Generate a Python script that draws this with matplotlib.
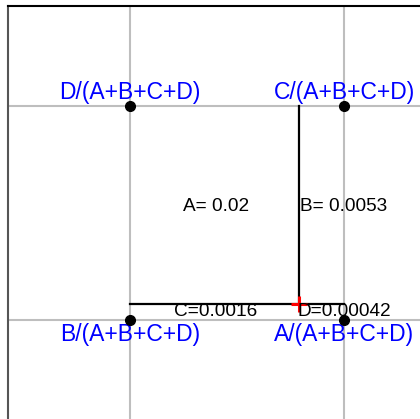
import matplotlib
matplotlib.use('Agg')
import matplotlib.pyplot as plt

plt.rcParams['font.family'] = ['Liberation Sans', 'DejaVu Sans']

# values shown on the chart
names = ['A', 'B', 'C', 'D']
values = [0.02, 0.0053, 0.0016, 0.00042]
value_texts = ['A= 0.02', 'B= 0.0053', 'C=0.0016', 'D=0.00042']
corner_labels = ['A/(A+B+C+D)', 'B/(A+B+C+D)', 'C/(A+B+C+D)', 'D/(A+B+C+D)']
corner_x = [1, 0, 1, 0]
corner_y = [0, 0, 1, 1]

if __name__ == '__main__':
    A, B, C, D = values
    total = sum(values)
    cross_x = (A + C) / total
    cross_y = (C + D) / total

    fig = plt.figure(figsize=(4.2, 4.19), dpi=100)
    ax = fig.add_axes([8 / 420, 0.9857 - 1.0048, 1.0905, 1.0048])
    ax.set_xlim(-0.57, 1.57)
    ax.set_ylim(-0.5, 1.467)

    ax.set_xticks([0, 1])
    ax.set_yticks([0, 1])
    ax.tick_params(length=0, labelbottom=False, labelleft=False)
    ax.grid(True, color='#bebebe', lw=1.5)
    ax.set_axisbelow(True)
    ax.spines['left'].set_color('#555555')
    ax.spines['left'].set_linewidth(1.5)
    ax.spines['top'].set_color('black')
    ax.spines['top'].set_linewidth(1.5)

    # split lines
    ax.plot([0, 1], [cross_y, cross_y], color='black', lw=1.6, zorder=3)
    ax.plot([cross_x, cross_x], [cross_y, 1], color='black', lw=1.6, zorder=3)

    # corner points
    ax.plot(corner_x, corner_y, 'o', color='black', ms=7, zorder=4)
    ax.plot([cross_x], [cross_y], '+', color='red', ms=12, mew=2.2, zorder=5)

    # labels
    for lab, x, y in zip(corner_labels, corner_x, corner_y):
        ty = 1.063 if y == 1 else -0.07
        ax.text(x, ty, lab, color='blue', fontsize=16.5, ha='center', va='center')

    text_pos = [(0.4, 0.53), (1.0, 0.53), (0.4, 0.038), (1.0, 0.038)]
    for t, (x, y) in zip(value_texts, text_pos):
        ax.text(x, y, t, color='black', fontsize=13.7, ha='center', va='center', zorder=6)

    fig.savefig('out.png', dpi=100)
